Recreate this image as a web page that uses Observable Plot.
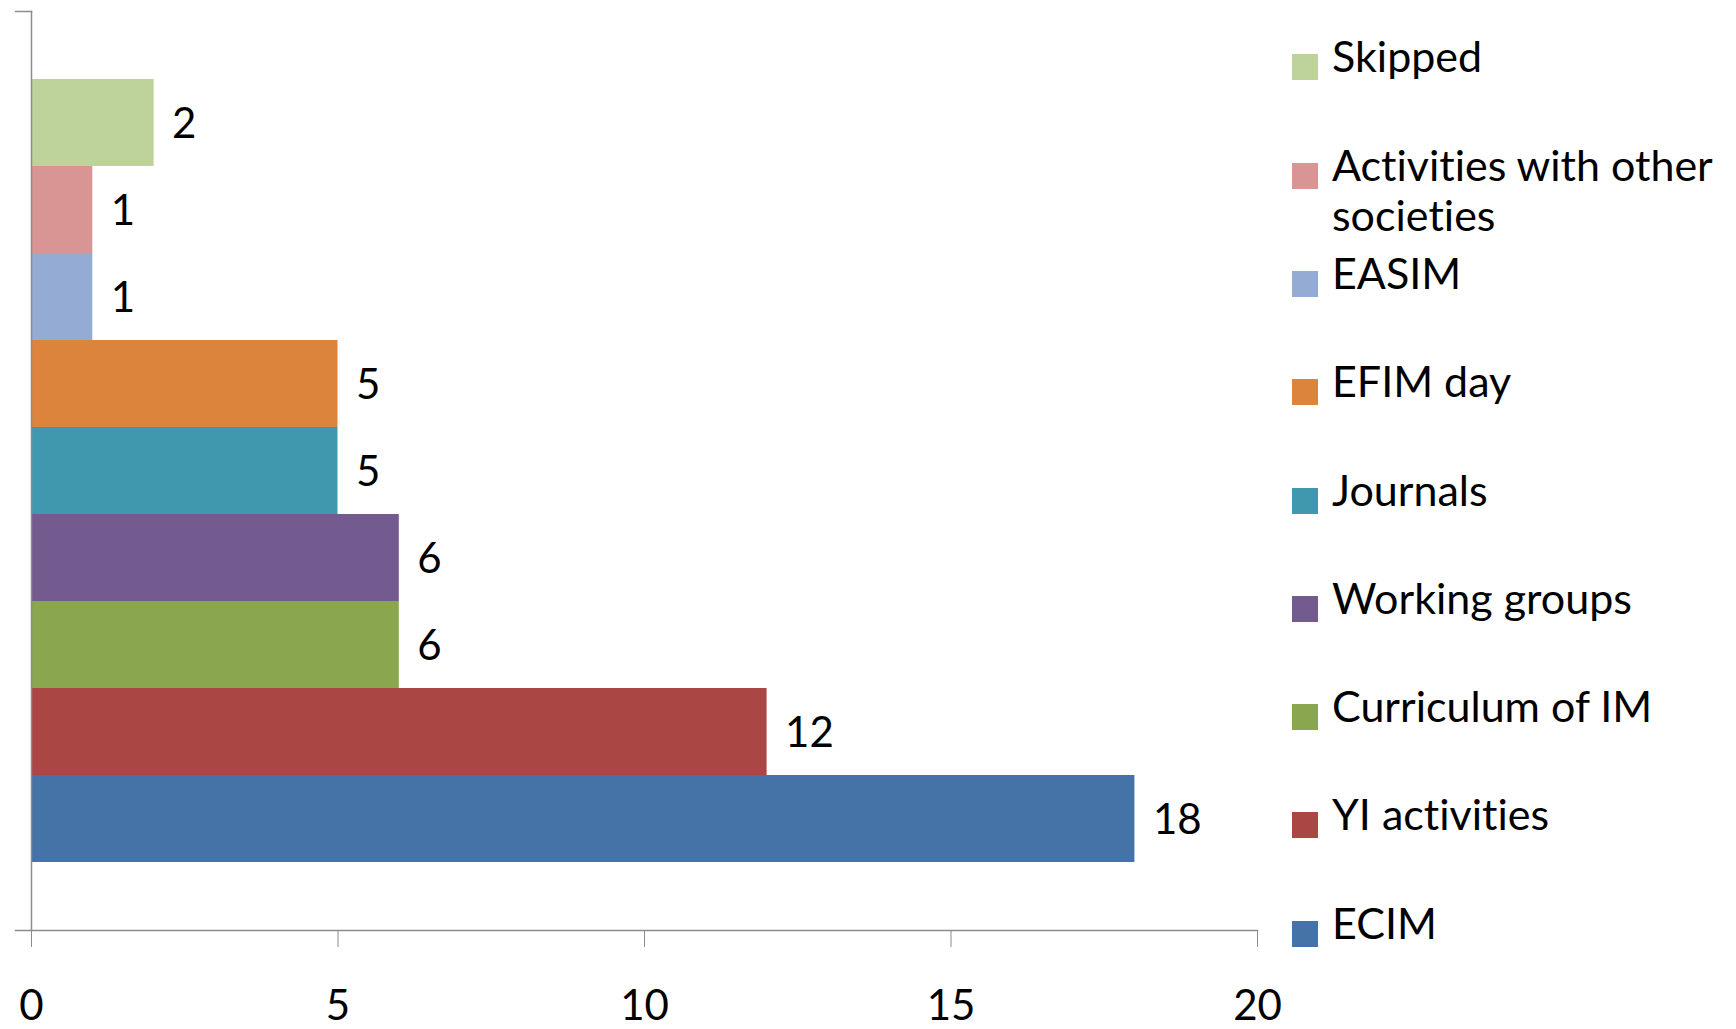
<!DOCTYPE html>
<html><head><meta charset="utf-8">
<script src="https://cdn.jsdelivr.net/npm/d3@7"></script>
<script src="https://cdn.jsdelivr.net/npm/@observablehq/plot@0.6"></script>
<style>
body{margin:0;background:#fff;}
#wrap{position:relative;width:1736px;height:1029px;font-family:Lato,sans-serif;font-variant-ligatures:none;}
#wrap svg text{font-variant-ligatures:none;}
#legend{position:absolute;left:1292px;top:13.4px;}
.item{position:relative;height:108.3px;width:440px;}
.sw{position:absolute;left:0;top:41px;width:26px;height:26px;}
.lab{position:absolute;left:40px;top:18px;font-size:43px;line-height:50px;color:#000;width:404px;font-variant-ligatures:none;}
</style></head>
<body><div id="wrap"></div>
<script>
const categories = ["Skipped","Activities with other societies","EASIM","EFIM day","Journals","Working groups","Curriculum of IM","YI activities","ECIM"];
const values = [2,1,1,5,5,6,6,12,18];
const colors = ["#bed29b","#d89594","#94abd3","#dd843c","#3f98ae","#735a8f","#8aa64e","#aa4644","#4572a7"];
const xTicks = [0,5,10,15,20];

const data = categories.map((c,i)=>({category:c, value:values[i]}));
const axisGray = "#8c8c8c";

const chart = Plot.plot({
  width:1736, height:1029,
  marginLeft:31, marginRight:479, marginTop:11, marginBottom:99,
  style:{fontFamily:"Lato, sans-serif", fontSize:"42px", color:"#000", background:"transparent"},
  x:{domain:[0,20], label:null},
  y:{domain:categories, paddingInner:0, paddingOuter:0.73, axis:null},
  color:{domain:categories, range:colors},
  marks:[
    Plot.barX(data,{y:"category", x:"value", fill:"category"}),
    Plot.text(data,{y:"category", x:"value", text:d=>String(d.value), textAnchor:"start", dx:18, dy:2, fill:"#000", fontSize:42}),
    Plot.axisX({ticks:xTicks, tickSize:17, tickPadding:43, stroke:axisGray, strokeOpacity:1, tickFormat:d=>String(d), fontSize:42, fill:"#000", label:null}),
    Plot.frame({anchor:"bottom", insetLeft:-16, stroke:axisGray, strokeWidth:1.5}),
    Plot.frame({anchor:"left", stroke:axisGray, strokeWidth:1.5}),
    Plot.frame({anchor:"top", insetLeft:-16, insetRight:1226, stroke:axisGray, strokeWidth:1.5})
  ]
});
const wrap = document.getElementById("wrap");
wrap.appendChild(chart);

const legend = document.createElement("div");
legend.id = "legend";
categories.forEach((c,i)=>{
  const item = document.createElement("div");
  item.className = "item";
  const sw = document.createElement("div");
  sw.className = "sw";
  sw.style.background = colors[i];
  const lab = document.createElement("div");
  lab.className = "lab";
  lab.textContent = c;
  item.appendChild(sw); item.appendChild(lab);
  legend.appendChild(item);
});
wrap.appendChild(legend);
</script>
</body></html>
